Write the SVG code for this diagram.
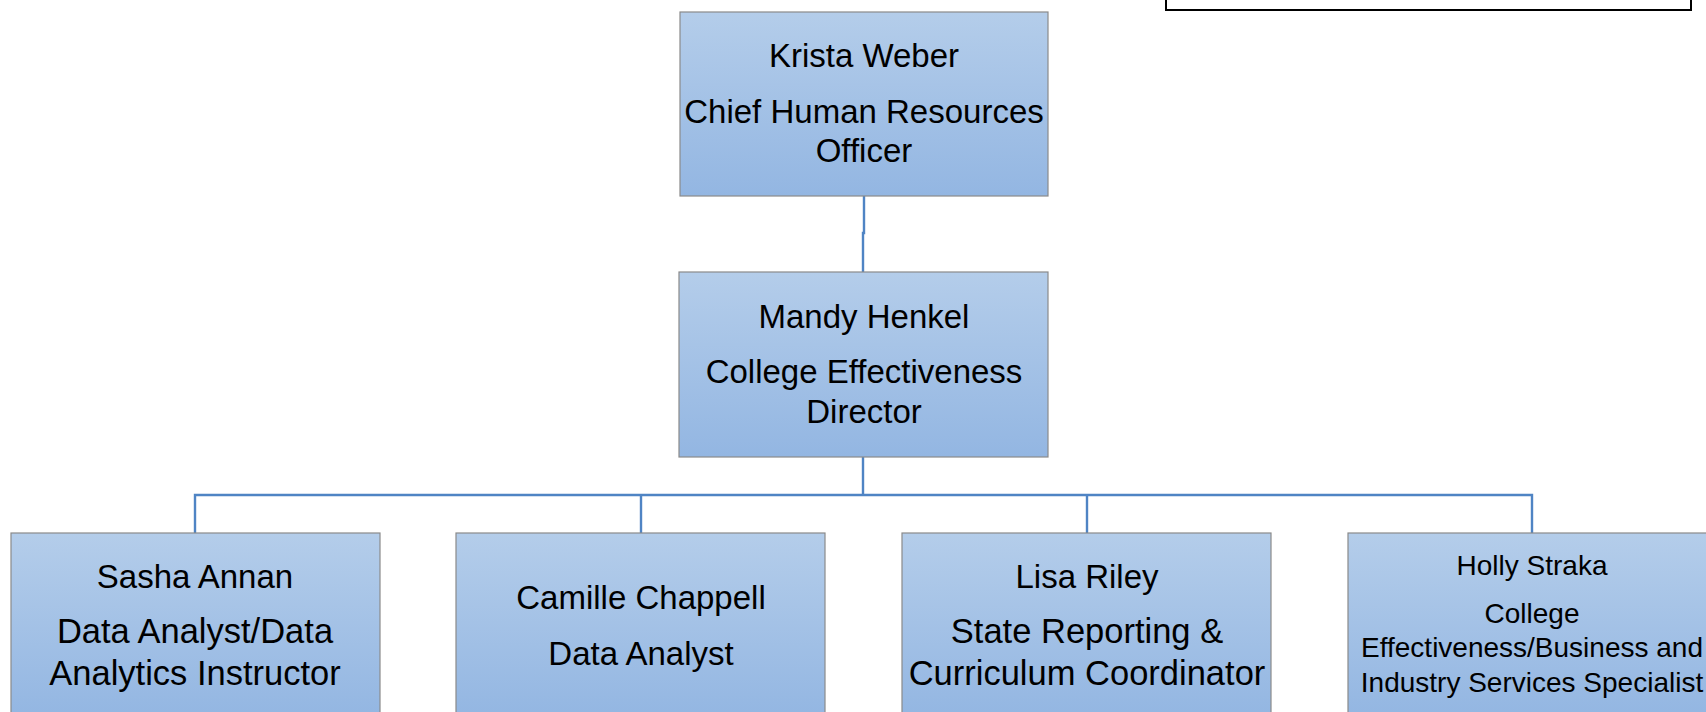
<svg xmlns="http://www.w3.org/2000/svg" width="1706" height="712" viewBox="0 0 1706 712">
<defs>
<linearGradient id="boxGrad" x1="0" y1="0" x2="0" y2="1">
<stop offset="0" stop-color="#b4cdea"/>
<stop offset="1" stop-color="#93b6e2"/>
</linearGradient>
<linearGradient id="boxGradTall" gradientUnits="userSpaceOnUse" x1="0" y1="533" x2="0" y2="718">
<stop offset="0" stop-color="#b4cdea"/>
<stop offset="1" stop-color="#93b6e2"/>
</linearGradient>
<style>
.box{fill:url(#boxGrad);stroke:#8a8a8a;stroke-width:1.2}
.boxb{fill:url(#boxGradTall);stroke:#8a8a8a;stroke-width:1.2}
.t{font-family:"Liberation Sans",Arial,sans-serif;font-size:33px;fill:#000;text-anchor:middle}
.w{font-size:34.5px}
.s{font-family:"Liberation Sans",Arial,sans-serif;font-size:28px;fill:#000;text-anchor:middle}
.conn{fill:none;stroke:#4f84c4;stroke-width:2.4}
</style>
</defs>
<rect width="1706" height="712" fill="#ffffff"/>

<g id="legend-box">
<rect x="1166" y="-10" width="525" height="20" fill="#ffffff" stroke="#000000" stroke-width="2"/>
</g>

<g id="connectors">
<path class="conn" d="M864,196 V233 H863 V272"/>
<path class="conn" d="M863,457 V495"/>
<path class="conn" d="M195,533 V495 H1532 V533"/>
<path class="conn" d="M641,495 V533"/>
<path class="conn" d="M1087,495 V533"/>
</g>

<g id="krista-weber">
<rect class="box" x="680" y="12" width="368" height="184"/>
<text class="t" x="864" y="67">Krista Weber</text>
<text class="t" x="864" y="123">Chief Human Resources</text>
<text class="t" x="864" y="162">Officer</text>
</g>

<g id="mandy-henkel">
<rect class="box" x="679" y="272" width="369" height="185"/>
<text class="t" x="864" y="328">Mandy Henkel</text>
<text class="t" x="864" y="383">College Effectiveness</text>
<text class="t" x="864" y="423">Director</text>
</g>

<g id="sasha-annan">
<rect class="boxb" x="11" y="533" width="369" height="185"/>
<text class="t" x="195" y="588">Sasha Annan</text>
<text class="t w" x="195" y="643">Data Analyst/Data</text>
<text class="t w" x="195" y="685">Analytics Instructor</text>
</g>

<g id="camille-chappell">
<rect class="boxb" x="456" y="533" width="369" height="185"/>
<text class="t" x="641" y="609">Camille Chappell</text>
<text class="t" x="641" y="665">Data Analyst</text>
</g>

<g id="lisa-riley">
<rect class="boxb" x="902" y="533" width="369" height="185"/>
<text class="t" x="1087" y="588">Lisa Riley</text>
<text class="t w" x="1087" y="643">State Reporting &amp;</text>
<text class="t w" x="1087" y="685">Curriculum Coordinator</text>
</g>

<g id="holly-straka">
<rect class="boxb" x="1348" y="533" width="369" height="185"/>
<text class="s" x="1532" y="575">Holly Straka</text>
<text class="s" x="1532" y="623">College</text>
<text class="s" x="1532" y="657">Effectiveness/Business and</text>
<text class="s" x="1532" y="692">Industry Services Specialist</text>
</g>
</svg>
